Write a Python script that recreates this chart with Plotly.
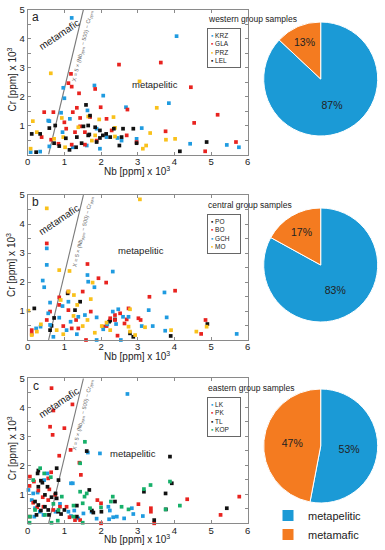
import plotly.graph_objects as go

W, H = 385, 550
def px(x): return x / W
def py(y): return 1 - y / H

FONT = "Liberation Sans, Arial, sans-serif"
BLUE = '#1f9be0'
RED = '#e8231f'
YEL = '#f9c11b'
BLK = '#111111'
GRN = '#17b06a'
PIE_BLUE = '#1b9ad6'
PIE_ORANGE = '#f47b20'

# ---------------- data ----------------
x_ticks = [0, 1, 2, 3, 4, 5, 6]
y_ticks = [1, 2, 3, 4, 5]

boundary_nb = [0.57, 1.52]
boundary_cr = [0.0, 5.0]

# panel a: western group
a_names = ['KRZ', 'GLA', 'PRZ', 'LEL']
krz_nb = [1.20, 4.06, 0.97, 1.00, 1.82, 2.06, 3.85, 2.68, 0.91, 1.15, 1.63, 0.59, 4.43, 5.43, 5.76, 0.08, 0.34, 0.59, 1.23, 1.97, 1.88, 2.45, 2.56, 3.11, 2.97, 0.95, 2.15, 1.61, 0.56]
krz_cr = [4.71, 4.08, 2.30, 1.94, 2.38, 2.03, 1.77, 1.63, 1.44, 1.23, 1.52, 1.15, 0.37, 0.33, 0.25, 0.08, 0.10, 0.28, 0.25, 0.20, 0.89, 0.57, 0.48, 0.91, 0.54, 0.77, 0.60, 0.31, 1.17]
gla_nb = [1.18, 1.11, 1.20, 1.40, 2.49, 3.63, 4.45, 1.84, 1.99, 2.72, 5.18, 0.45, 0.70, 1.23, 1.34, 4.54, 3.76, 0.38, 0.64, 0.84, 1.00, 1.05, 1.43, 1.70, 1.56, 2.15, 2.29, 2.70, 2.97, 4.84, 5.68, 1.43, 1.20, 1.56, 1.88, 1.29]
gla_cr = [2.78, 2.46, 2.34, 2.11, 3.10, 3.17, 2.32, 2.26, 1.63, 1.55, 1.37, 1.46, 1.46, 1.46, 1.61, 1.09, 0.80, 0.60, 0.51, 0.37, 1.11, 0.89, 0.97, 1.29, 0.77, 1.23, 0.83, 0.66, 0.43, 0.11, 0.43, 1.26, 0.34, 0.34, 0.48, 0.77]
prz_nb = [0.63, 3.05, 3.52, 0.14, 0.93, 1.95, 2.34, 0.25, 0.97, 1.38, 2.38, 3.34, 4.02, 3.77, 3.23, 3.14, 1.75, 1.84, 0.08, 2.38, 1.02, 0.72, 1.65]
prz_cr = [2.80, 2.52, 1.61, 1.15, 1.26, 1.21, 1.29, 0.77, 0.60, 0.94, 0.92, 0.74, 0.54, 0.51, 0.31, 0.20, 0.48, 0.66, 0.20, 0.62, 0.25, 0.54, 1.31]
lel_nb = [1.59, 1.70, 1.65, 0.59, 0.75, 0.11, 0.34, 0.72, 0.86, 1.04, 1.34, 1.52, 1.68, 1.84, 1.97, 2.05, 2.14, 2.35, 2.60, 2.88, 2.25, 2.56, 2.97, 2.50, 1.47, 1.14, 0.23, 4.88, 4.15, 1.88, 1.32, 1.97, 1.65]
lel_cr = [1.71, 1.34, 1.00, 0.91, 1.00, 0.71, 0.71, 0.39, 0.29, 0.56, 0.60, 0.97, 0.69, 0.94, 0.83, 0.66, 0.71, 0.89, 0.89, 0.89, 0.60, 0.60, 0.39, 0.31, 0.39, 0.16, 0.08, 0.43, 0.11, 0.43, 0.25, 0.57, 0.66]

# panel b: central group
b_names = ['PO', 'BO', 'GCH', 'MO']
po_nb = [0.18, 1.09, 1.43, 1.29, 0.72, 0.65, 2.25, 2.22, 2.38, 2.79, 2.88, 3.90, 4.90, 0.61]
po_cr = [1.09, 1.61, 1.32, 1.03, 0.76, 0.49, 0.67, 0.63, 0.71, 0.23, 0.11, 0.14, 0.55, 0.34]
bo_nb = [0.52, 1.63, 1.93, 2.14, 4.02, 3.32, 1.11, 0.86, 0.86, 1.50, 1.11, 0.61, 1.72, 2.75, 2.70, 2.52, 2.38, 2.06, 2.15, 2.45, 2.64, 3.02, 3.08, 4.85, 4.73, 1.59, 0.11, 0.11, 0.52, 0.97, 1.32, 1.38, 2.25, 2.38, 1.20]
bo_cr = [3.33, 2.62, 2.13, 1.98, 1.70, 1.49, 1.67, 1.47, 1.21, 1.67, 1.03, 0.98, 0.98, 1.09, 0.71, 0.92, 0.86, 0.46, 0.48, 0.15, 0.57, 0.75, 0.69, 0.69, 0.21, 0.00, 0.34, 0.21, 0.69, 0.48, 0.69, 0.40, 0.75, 0.69, 0.40]
gch_nb = [0.52, 0.52, 0.41, 0.45, 1.63, 2.32, 1.65, 1.82, 0.61, 0.95, 3.73, 3.30, 1.11, 0.56, 0.86, 1.17, 1.38, 1.56, 1.88, 2.17, 2.32, 2.47, 2.60, 2.75, 3.11, 3.41, 3.79, 3.75, 5.70, 1.88, 2.54, 0.23, 0.35, 0.61, 0.70, 1.06, 1.34, 2.06, 2.41]
gch_cr = [3.16, 2.59, 2.05, 1.82, 2.24, 2.36, 2.01, 1.82, 1.29, 1.17, 1.64, 1.03, 1.32, 0.92, 0.77, 0.63, 0.80, 0.86, 0.78, 0.54, 0.98, 1.06, 0.80, 0.80, 0.48, 0.48, 0.78, 0.32, 0.21, 0.00, 0.00, 0.40, 0.46, 0.52, 0.11, 0.34, 0.20, 0.37, 0.55]
mo_nb = [0.52, 3.06, 0.86, 1.14, 1.77, 0.02, 1.11, 1.26, 1.72, 0.90, 1.35, 1.25, 1.63, 1.50, 1.83, 2.02, 2.15, 2.25, 2.75, 2.79, 2.79, 3.20, 2.93, 3.91, 4.88, 4.60, 0.25, 0.11, 0.36, 0.79, 0.97]
mo_cr = [4.54, 4.85, 2.41, 2.38, 1.98, 1.01, 1.67, 1.55, 1.41, 1.38, 1.21, 0.83, 0.69, 0.48, 0.25, 0.48, 0.60, 0.34, 0.46, 1.06, 0.29, 0.44, 0.17, 0.34, 0.46, 0.29, 0.29, 0.17, 0.54, 0.34, 0.20]

# panel c: eastern group
c_names = ['LK', 'PK', 'TL', 'KOP']
lk_nb = [2.72, 1.64, 1.97, 1.18, 1.23, 0.88, 1.11, 1.38, 2.20, 2.22, 2.43, 2.84, 2.88, 3.14, 0.02, 0.15, 0.54, 0.45, 0.27, 0.11, 0.20, 0.33, 0.43, 0.18, 0.76, 1.27, 1.52, 1.74, 2.24, 2.33, 2.63, 1.88, 1.18]
lk_cr = [4.46, 2.44, 2.41, 1.38, 1.38, 0.67, 0.40, 0.17, 0.57, 0.14, 0.23, 0.52, 0.32, 0.25, 1.15, 1.03, 1.72, 1.49, 1.06, 0.80, 0.52, 0.40, 0.29, 0.23, 0.40, 0.44, 0.34, 0.40, 0.44, 0.21, 0.17, 0.16, 0.25]
pk_nb = [0.65, 0.70, 1.22, 0.61, 1.00, 0.68, 1.17, 0.86, 1.41, 1.45, 0.64, 0.56, 0.06, 0.17, 0.05, 0.29, 0.15, 0.41, 0.59, 0.56, 0.75, 0.26, 1.14, 1.29, 1.43, 1.90, 2.00, 2.00, 3.02, 3.36, 3.36, 3.45, 4.35, 5.26, 5.77, 0.06, 0.43, 0.88, 1.06, 0.70]
pk_cr = [4.66, 3.89, 4.10, 3.33, 3.28, 3.05, 2.53, 2.33, 2.09, 1.67, 1.76, 1.55, 1.61, 1.44, 1.29, 1.13, 0.71, 0.90, 1.17, 0.80, 0.98, 0.55, 0.21, 0.11, 0.11, 0.80, 0.69, 0.00, 0.66, 0.52, 0.40, 0.00, 0.83, 0.29, 0.92, 0.23, 0.57, 0.57, 0.57, 0.46]
tl_nb = [1.61, 3.88, 0.29, 0.27, 0.36, 0.40, 0.29, 0.54, 0.47, 0.65, 0.76, 0.79, 0.20, 0.29, 0.47, 0.56, 0.36, 0.24, 0.58, 0.83, 0.91, 1.68, 1.79, 2.01, 1.00, 1.34, 1.75, 2.38, 3.17, 3.76, 3.93, 3.77, 3.45, 5.43, 1.34, 0.79, 0.84]
tl_cr = [2.49, 2.30, 1.82, 1.72, 1.47, 1.40, 1.26, 1.26, 0.98, 0.90, 1.03, 0.86, 0.75, 0.63, 0.57, 0.46, 0.44, 0.29, 0.29, 0.40, 0.32, 1.15, 0.37, 0.40, 0.46, 0.61, 0.44, 0.75, 1.09, 1.03, 1.38, 0.48, 0.11, 0.52, 0.23, 1.90, 1.49]
kop_nb = [1.56, 0.34, 0.15, 0.45, 0.63, 1.43, 1.43, 1.61, 1.55, 0.93, 0.70, 0.84, 1.25, 1.50, 1.70, 2.00, 2.32, 2.27, 2.56, 2.75, 3.17, 3.35, 3.76, 3.88, 4.15, 0.82, 0.05, 0.65, 1.25, 0.06, 0.20, 0.47, 1.50]
kop_cr = [2.81, 1.90, 1.49, 1.72, 1.59, 2.07, 1.09, 1.03, 0.92, 0.92, 0.67, 0.46, 0.61, 0.69, 0.52, 0.55, 0.92, 0.75, 0.57, 0.48, 1.18, 1.32, 0.48, 1.44, 0.61, 0.09, 0.02, 0.02, 0.23, 0.23, 0.46, 0.29, 0.02]

# pies: share of samples (%)
pie_labels = ['metapelitic', 'metamafic']
pie_a = [87, 13]
pie_b = [83, 17]
pie_c = [53, 47]

group_titles = ['western group samples', 'central group samples', 'eastern group samples']
panel_letters = ['a', 'b', 'c']

# ---------------- layout geometry (pixels) ----------------
X0, X1 = 27.7, 247.7
panel_px = [(9.5, 154.5), (195, 340), (378.3, 523.3)]   # (top, bottom)
pie_centres = [79, 265, 446]
PIE_R = 57
PIE_CX = 320.7

panels = [
    (a_names, [(krz_nb, krz_cr), (gla_nb, gla_cr), (prz_nb, prz_cr), (lel_nb, lel_cr)], [BLUE, RED, YEL, BLK], pie_a),
    (b_names, [(po_nb, po_cr), (bo_nb, bo_cr), (gch_nb, gch_cr), (mo_nb, mo_cr)], [BLK, RED, BLUE, YEL], pie_b),
    (c_names, [(lk_nb, lk_cr), (pk_nb, pk_cr), (tl_nb, tl_cr), (kop_nb, kop_cr)], [BLUE, RED, BLK, GRN], pie_c),
]

fig = go.Figure()
annotations = []
layout_axes = {}

for i, (names, series, colors, pie_vals) in enumerate(panels):
    sfx = '' if i == 0 else str(i + 1)
    xa, ya = 'x' + sfx, 'y' + sfx
    top, bot = panel_px[i]

    # boundary line
    fig.add_trace(go.Scatter(x=boundary_nb, y=boundary_cr, mode='lines',
                             line=dict(color='#7a7a7a', width=1.1),
                             xaxis=xa, yaxis=ya, showlegend=False, hoverinfo='skip'))
    for name, (xs, ys), col in zip(names, series, colors):
        fig.add_trace(go.Scatter(x=xs, y=ys, mode='markers', name=name,
                                 marker=dict(symbol='square', size=3.7, color=col,
                                             line=dict(width=0)),
                                 xaxis=xa, yaxis=ya, showlegend=False, cliponaxis=False))

    axis_common = dict(showgrid=False, zeroline=False, showline=True, linecolor='#8a8a8a',
                       linewidth=1, mirror='allticks', ticks='inside', ticklen=3,
                       tickcolor='#8a8a8a', tickwidth=1, automargin=False,
                       tickfont=dict(family=FONT, size=9.5, color='#222'))
    layout_axes['xaxis' + sfx] = dict(axis_common, domain=[px(X0), px(X1)], range=[0, 6],
                                      tickvals=x_ticks, anchor=ya, fixedrange=True,
                                      ticklabelstandoff=-2)
    layout_axes['yaxis' + sfx] = dict(axis_common, domain=[py(bot), py(top)], range=[0, 5],
                                      tickvals=y_ticks, anchor=xa, fixedrange=True,
                                      minor=dict(dtick=0.5, ticks='inside', ticklen=3,
                                                 tickcolor='#8a8a8a', showgrid=False))

    # text annotations (data-referenced)
    ann_common = dict(xref=xa, yref=ya, showarrow=False, xanchor='center', yanchor='middle')
    annotations.append(dict(ann_common, x=0.22, y=4.75, text=panel_letters[i],
                            font=dict(family=FONT, size=12, color='#222')))
    annotations.append(dict(ann_common, x=0.86, y=4.15, text='metamafic', textangle=-34,
                            font=dict(family=FONT, size=10, color='#222')))
    pel_pos = [(3.47, 2.41), (3.08, 3.07), (2.88, 2.39)][i]
    annotations.append(dict(ann_common, x=pel_pos[0], y=pel_pos[1], text='metapelitic',
                            font=dict(family=FONT, size=9.5, color='#222')))
    annotations.append(dict(ann_common, x=1.50, y=3.72, textangle=-76.5,
                            text='X = 5 × (Nb<sub>ppm</sub> − 500) − Cr<sub>ppm</sub>',
                            font=dict(family=FONT, size=5.5, color='#666')))
    # axis titles (paper-referenced, explicit anchors)
    paper = dict(xref='paper', yref='paper', showarrow=False)
    annotations.append(dict(paper, x=px((X0 + X1) / 2 - 1), y=py(bot + 16),
                            xanchor='center', yanchor='middle',
                            text='Nb [ppm] x 10<sup>3</sup>',
                            font=dict(family=FONT, size=10, color='#222')))
    annotations.append(dict(paper, x=px(11.5), y=py((top + bot) / 2 - 2), textangle=-90,
                            xanchor='center', yanchor='middle',
                            text='Cr [ppm] x 10<sup>3</sup>',
                            font=dict(family=FONT, size=10, color='#222')))
    # group title
    annotations.append(dict(paper, x=px(205.5), y=py(top + 9.5), xanchor='left', yanchor='middle',
                            text=group_titles[i],
                            font=dict(family=FONT, size=8.5, color='#222')))
    # inset legend box built from series names/colours
    leg_text = '<br>'.join(f"<span style='color:{c}'>▪</span> {n}" for n, c in zip(names, colors))
    annotations.append(dict(paper, x=px(207.3), y=py(top + 18.5), xanchor='left', yanchor='top',
                            align='left', width=26, text=leg_text,
                            bordercolor='#666', borderwidth=1, borderpad=3, bgcolor='white',
                            font=dict(family=FONT, size=6.5, color='#222')))

    # pie
    cy = pie_centres[i]
    fig.add_trace(go.Pie(values=pie_vals, labels=pie_labels, sort=False, direction='clockwise',
                         rotation=0, textinfo='percent', texttemplate='%{percent:.0%}',
                         textposition='inside', insidetextorientation='horizontal',
                         textfont=dict(family=FONT, size=10.5, color='#222'),
                         marker=dict(colors=[PIE_BLUE, PIE_ORANGE], line=dict(color='white', width=1)),
                         domain=dict(x=[px(PIE_CX - PIE_R), px(PIE_CX + PIE_R)],
                                     y=[py(cy + PIE_R), py(cy - PIE_R)]),
                         showlegend=(i == 2), hoverinfo='label+percent'))

fig.update_layout(
    width=W, height=H, margin=dict(l=0, r=0, t=0, b=0, autoexpand=False),
    paper_bgcolor='white', plot_bgcolor='white',
    font=dict(family=FONT, color='#222'),
    annotations=annotations,
    showlegend=True,
    legend=dict(x=px(268), y=py(549), xanchor='left', yanchor='bottom',
                font=dict(family=FONT, size=11, color='#222'),
                bgcolor='rgba(0,0,0,0)', itemclick=False, itemdoubleclick=False,
                tracegroupgap=0),
    **layout_axes,
)

fig.write_html("out.html", config={'displayModeBar': False},
               post_script="document.body.style.margin='0';")
